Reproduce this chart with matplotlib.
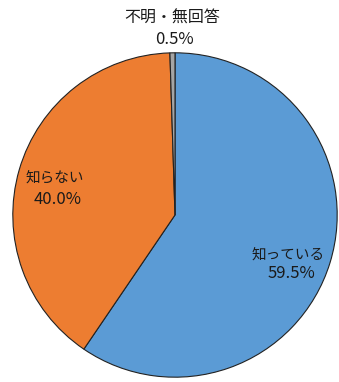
import matplotlib
matplotlib.use("Agg")
import matplotlib.pyplot as plt

plt.rcParams['font.family'] = ['Noto Sans CJK JP', 'DejaVu Sans']

categories = ["知っている", "知らない", "不明・無回答"]
values = [59.5, 40.0, 0.5]
colors = ["#5B9BD5", "#ED7D31", "#A5A5A5"]

W, H = 339, 382
fig = plt.figure(figsize=(W / 100, H / 100), dpi=100)
cx, cy, r = 175, 215, 163
ax = fig.add_axes([(cx - r) / W, 1 - (cy + r) / H, 2 * r / W, 2 * r / H])
ax.pie(values, colors=colors, startangle=90, counterclock=False,
       wedgeprops=dict(edgecolor="#222222", linewidth=0.8), radius=1.0)
ax.set_xlim(-1.005, 1.005)
ax.set_ylim(-1.005, 1.005)
ax.set_aspect("equal")
ax.axis("off")

# (x_cat, y_cat, x_pct, y_pct, cat_size)
label_pos = [(288, 255, 291, 274, 10.5),
             (55, 178, 58, 200, 10.5),
             (172, 18, 174, 40, 11.5)]
for cat, v, (xc, yc, xp, yp, fs) in zip(categories, values, label_pos):
    fig.text(xc / W, 1 - yc / H, cat, ha="center", va="center",
             fontsize=fs, color="#1a1a1a")
    fig.text(xp / W, 1 - yp / H, f"{v:.1f}%", ha="center", va="center",
             fontsize=12, color="#1a1a1a")

fig.savefig("out.png", dpi=100)
